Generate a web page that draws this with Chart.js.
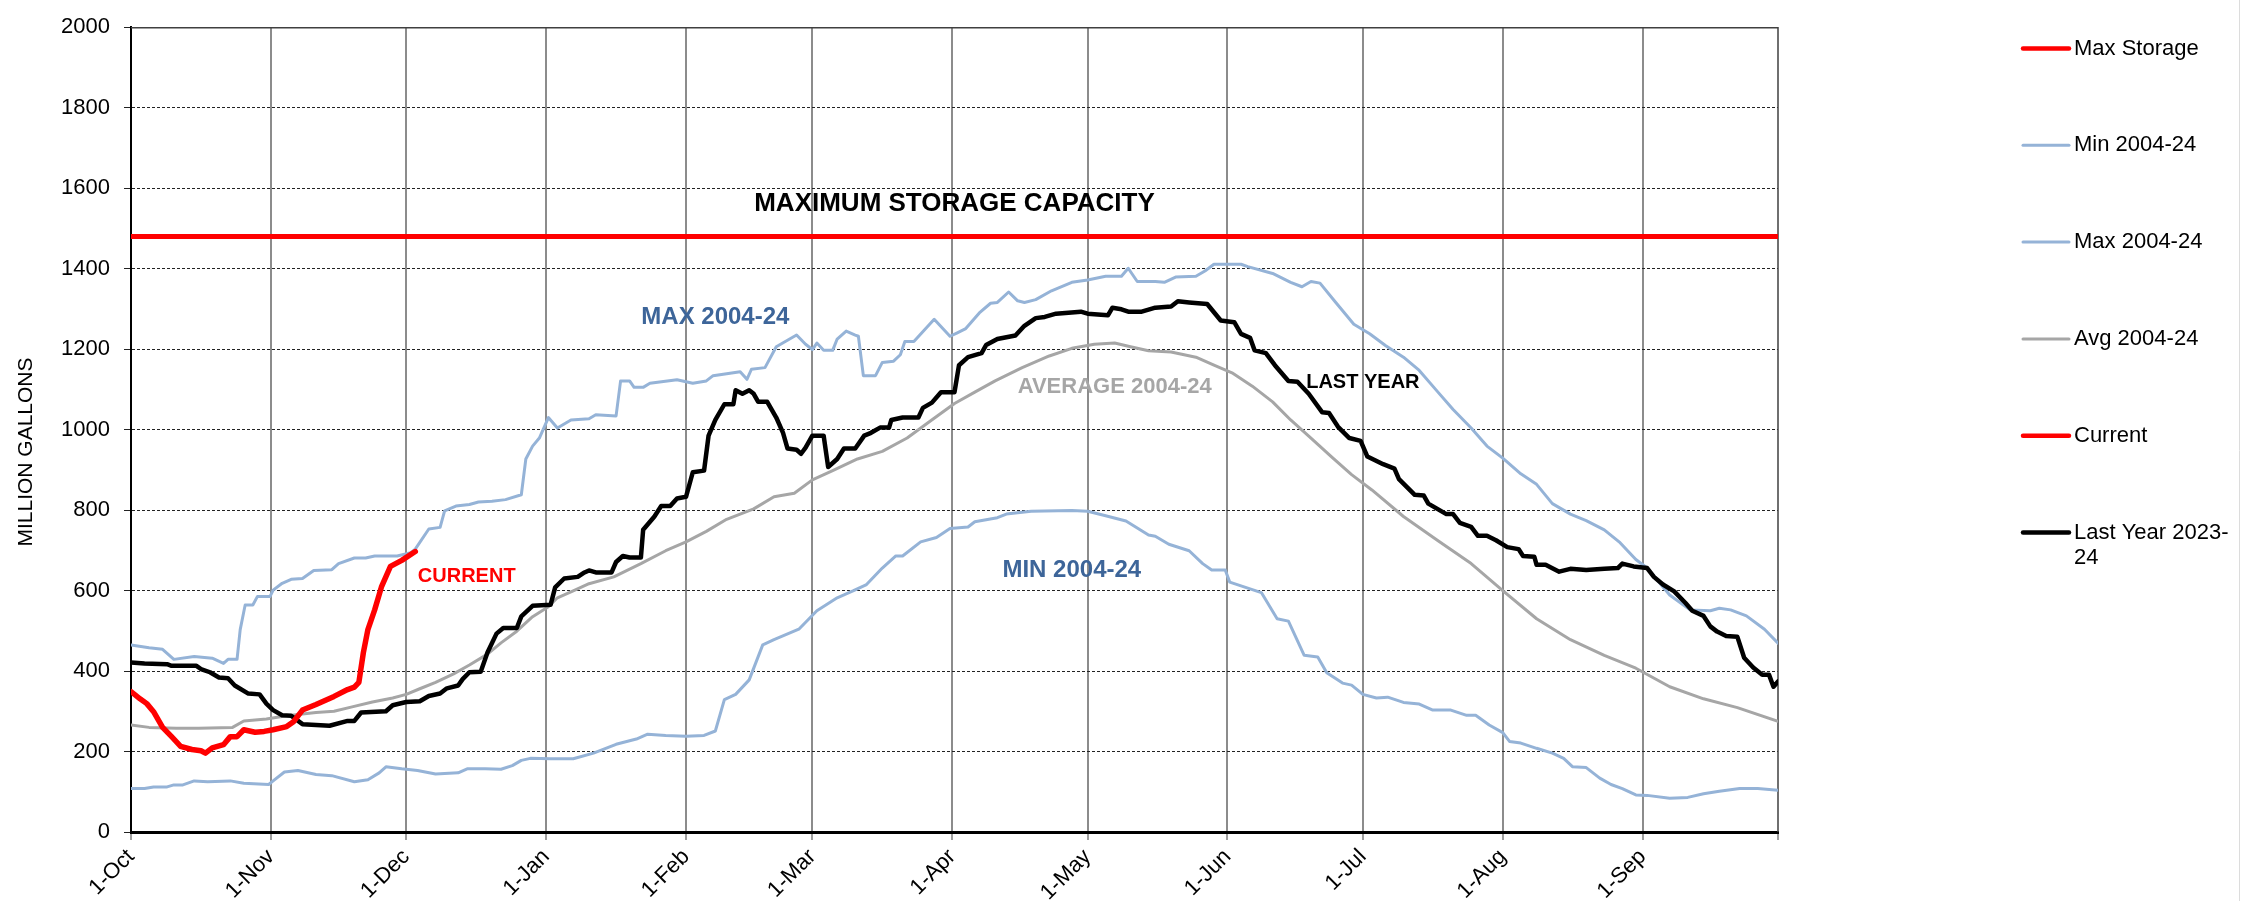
<!DOCTYPE html>
<html>
<head>
<meta charset="utf-8">
<script src="https://cdn.jsdelivr.net/npm/chart.js@4.4.1/dist/chart.umd.min.js"></script>
<style>
html,body{margin:0;padding:0;background:#fff;}
#wrap{width:2258px;height:901px;position:relative;}
canvas{display:block;}
</style>
</head>
<body>
<div id="wrap"><canvas id="c" width="2258" height="901"></canvas></div>
<script>
// ---------- DATA (x = days since 1-Oct, y = million gallons) ----------
const monthTickDays   = [0, 31, 61, 92, 123, 151, 182, 212, 243, 273, 304, 335, 365];
const monthTickLabels = ['1-Oct','1-Nov','1-Dec','1-Jan','1-Feb','1-Mar','1-Apr','1-May','1-Jun','1-Jul','1-Aug','1-Sep',''];

const maxStorageDays   = [0, 365];
const maxStorageValues = [1480, 1480];

const minDays = [0,3,5,8,9.5,11.5,14,17,22,25,30.5,31.5,34,37,41,44.5,49.5,52.5,55,56.5,60,63.5,67.5,72.5,74.5,78.5,82,84.5,86.5,88.5,93,98,102.5,107.5,112,114.5,118.5,123,127,129.5,131.5,134,137,140,142.5,148,152,156.5,160,163,166.5,169.5,171,175,178.5,181.5,185.5,187,192,194,199.5,208.5,212,216,220.5,225.5,227,230,234.5,237.5,239.5,242.5,243.5,247,250.5,254,256.5,260,263,265,268.5,270.5,273,276,278.5,282,285.5,288.5,292.5,296,298,301,304,305.5,308,311.5,315,317.5,319.5,322.5,325.5,328,330.5,333.5,336,341,345,348.5,352,356.5,360.5,365];
const minValues = [108,108,112,112,117,117,127,125,127,121,118,127,149,153,143,140,125,130,147,162,157,153,144,147,157,157,156,165,178,183,182,182,196,218,231,243,240,238,240,251,329,342,378,465,478,504,550,582,599,615,656,686,686,721,732,754,758,771,781,790,797,799,797,786,773,738,735,715,699,667,651,651,621,608,595,530,524,439,435,396,370,365,342,333,335,322,318,303,303,290,290,266,247,225,221,208,196,183,162,160,134,118,108,92,91,84,86,95,101,108,108,104];

const maxDays = [0,4,7,9.5,14,18,20.5,21.5,23.5,24.2,25.3,27,28,30.8,31.5,33.5,35.5,38,40.5,44.5,46,49.5,52,54,59,62,63,66,68.5,69.5,72,75,77,80,83,86.5,87.5,89,90.5,92.5,94.5,97.5,101.5,103,107.5,108.5,110.5,111.5,113.5,115,121,124.5,127.5,129,135,136.5,137.5,140.5,143,147.5,149.5,151,152,153.5,155.5,156.5,158.5,160.5,161.2,162.3,165,166.5,169,170.5,171.5,173.5,178,181.5,183,185,188,190.5,192,194.5,196.5,198,200.5,204,208.5,212,216,219.5,221,223,227,229,231.5,236,238,240,246,247.5,253,257,259.5,261.5,263.5,267,271,274.5,278,282,285.5,289.5,293,297,300.5,304,308,311.5,315,319,322.5,326.5,330,333.5,336,341,345.5,350,352,354.5,358,362,365];
const maxValues = [465,458,454,429,436,432,419,429,429,503,564,564,585,585,601,618,628,630,650,652,667,681,681,686,686,694,703,753,757,798,810,814,820,822,826,838,927,959,979,1030,1004,1024,1027,1037,1034,1121,1121,1105,1105,1115,1124,1115,1121,1134,1144,1125,1150,1154,1206,1235,1212,1199,1215,1197,1197,1225,1245,1235,1232,1134,1134,1167,1170,1186,1219,1219,1274,1232,1240,1251,1290,1314,1316,1342,1320,1316,1323,1345,1366,1372,1381,1381,1401,1368,1368,1366,1379,1381,1394,1411,1411,1405,1388,1366,1355,1368,1364,1316,1262,1238,1209,1180,1147,1095,1050,1004,959,929,890,864,816,790,774,751,719,677,656,589,552,550,556,552,537,504,469];

const avgDays = [0,4,10,15,22.5,25,30,34.5,41,45,49,53.5,58,61,64,67.5,71.5,75,79,82,85.5,89,92.5,94.5,98,101.5,107,113,118.5,123,127.5,132,138,142.5,147,151,155.5,161,166.5,172,177,182.5,187,191.5,197.5,203.5,208.5,213.5,218,221.5,225.5,230.5,236,240,244,248.5,253,257,261.5,266,270.5,275,282,289.5,297,304,311.5,319,326.5,333.5,341,348.5,356,365];
const avgValues = [266,260,258,258,260,276,281,289,297,300,311,323,333,342,356,372,393,415,442,470,499,535,560,582,599,617,634,667,699,721,747,777,803,833,842,875,898,927,946,979,1020,1065,1093,1121,1154,1183,1202,1212,1215,1206,1196,1193,1180,1160,1141,1108,1069,1024,979,933,888,850,784,725,667,600,530,478,439,407,361,331,309,275];

const currentDays   = [0,2,3.5,5,7,9,11,13.5,15.5,16.5,18,20.5,22,23.5,25,27.5,29.5,31.5,34.5,36,38,41,45,48,49.5,50.5,51.5,52.5,54,55.5,57.5,60,63];
const currentValues = [349,331,319,299,260,237,213,205,202,196,209,217,237,237,254,248,250,254,262,274,303,317,337,354,360,372,446,503,552,609,660,675,697];

const lastYearDays = [0,3,8,9,14.5,15.5,17.5,19.5,21.5,23,26,28.5,30,31.5,33.5,35.5,38,44,48,49.5,51,56.5,58,61,64,66,68.5,70,72.5,73.5,75,77.5,79,81,82.5,85.5,86.5,89,93,94,96,99,100.5,101.5,103,106.5,107.5,109,110.5,113,113.5,116,117.5,119.5,121,123,124.5,127,128,129.5,131.5,133.5,134,135.5,137,138,139,141,143,144.5,145.5,147.5,148.5,149.5,151,153.5,154.5,156.5,158,160.5,162.5,164,166,168,168.5,171,174.5,175.5,177.5,179.5,182.5,183.5,185.5,188.5,189.5,192,196,198,200.5,202.5,205,210.5,212,216.5,217.5,219.5,221,224,227,230.5,232,234.5,238.5,241.5,244.5,246,248,249,251.5,253.5,256.5,258.5,261,264,265.5,267.5,270,272.5,274,277.5,280,281,284.5,286.5,287.5,291.5,293,294.5,297,298.5,300.5,302.5,305,307.5,308.5,311,311.5,313.5,316.5,319,322.5,326.5,329.5,330.5,333,336,337.5,339.5,342,344.5,346,348.5,350,351.5,353.5,356,357.5,359.5,361.5,363,364,365];
const lastYearValues = [421,419,417,413,413,405,397,384,382,364,344,342,319,303,290,289,268,264,276,276,297,300,315,323,325,338,344,357,364,380,397,398,446,493,507,507,536,562,565,608,630,634,645,650,645,645,671,686,682,682,751,784,810,810,829,833,894,898,985,1024,1063,1063,1098,1089,1098,1089,1069,1069,1030,992,953,950,940,955,985,985,907,927,953,953,985,992,1005,1005,1024,1030,1030,1054,1067,1093,1093,1160,1180,1190,1210,1225,1234,1258,1277,1280,1288,1293,1288,1284,1303,1299,1293,1293,1303,1306,1319,1316,1312,1271,1267,1238,1228,1197,1190,1160,1121,1119,1089,1043,1041,1007,979,972,933,914,903,877,838,836,816,790,790,768,758,736,736,725,708,703,686,684,664,664,647,654,651,654,656,667,660,656,634,615,598,569,550,537,511,498,487,485,433,409,391,391,361,374];

// ---------- STYLE / LAYOUT ----------
const FONT = "'Liberation Sans', Arial, sans-serif";
const BLUE = '#95b3d7';
const GRAY = '#a6a6a6';
const RED  = '#ff0000';

function pts(days, vals){ return days.map((d,i)=>({x:d, y:vals[i]})); }

const chartLabels = [
  {text:'MAXIMUM STORAGE CAPACITY', day:182.5, value:1562, color:'#000000', font:'bold 26px '+FONT},
  {text:'MAX 2004-24',     day:129.5, value:1278, color:'#3d6599', font:'bold 24px '+FONT},
  {text:'AVERAGE 2004-24', day:218,   value:1106, color:'#a6a6a6', font:'bold 22px '+FONT},
  {text:'MIN 2004-24',     day:208.5, value:649,  color:'#3d6599', font:'bold 24px '+FONT},
  {text:'LAST YEAR',       day:273,   value:1118, color:'#000000', font:'bold 20px '+FONT},
  {text:'CURRENT',         day:74.4,  value:634,  color:'#ff0000', font:'bold 20px '+FONT}
];

const overlay = {
  id:'overlay',
  beforeDatasetsDraw(chart){
    const {ctx, chartArea:a} = chart;
    ctx.save();
    ctx.strokeStyle = '#404040';
    ctx.lineWidth = 1.5;
    ctx.beginPath();
    ctx.moveTo(a.left, a.top + 0.5);
    ctx.lineTo(a.right, a.top + 0.5);
    ctx.lineTo(a.right, a.bottom);
    ctx.stroke();
    ctx.restore();
  },
  afterDatasetsDraw(chart){
    const {ctx} = chart;
    const xs = chart.scales.x, ys = chart.scales.y;
    ctx.save();
    ctx.textAlign = 'center';
    ctx.textBaseline = 'middle';
    chartLabels.forEach(l=>{
      ctx.font = l.font;
      ctx.fillStyle = l.color;
      ctx.fillText(l.text, xs.getPixelForValue(l.day), ys.getPixelForValue(l.value));
    });
    ctx.restore();
  },
  afterDraw(chart){
    const {ctx} = chart;
    ctx.save();
    // y-axis title
    ctx.translate(26.5, 452);
    ctx.rotate(-Math.PI/2);
    ctx.font = '21px ' + FONT;
    ctx.fillStyle = '#000';
    ctx.textAlign = 'center';
    ctx.textBaseline = 'middle';
    ctx.fillText('MILLION GALLONS', 0, 0);
    ctx.restore();

    // legend
    ctx.save();
    const lx1 = 2023, lx2 = 2069, tx = 2074, top = 48.5, step = 96.8, maxW = 163;
    ctx.font = '22px ' + FONT;
    ctx.textAlign = 'left';
    ctx.textBaseline = 'middle';
    chart.data.datasets.forEach((ds, i)=>{
      const y = top + i*step;
      ctx.strokeStyle = ds.borderColor;
      ctx.lineWidth = Math.min(ds.borderWidth, 4.5);
      ctx.lineCap = 'round';
      ctx.beginPath(); ctx.moveTo(lx1, y); ctx.lineTo(lx2, y); ctx.stroke();
      const tokens = ds.label.match(/[^\s-]+[\s-]?/g);
      const lines = []; let cur = '';
      tokens.forEach(t=>{
        if (cur && ctx.measureText((cur+t).trimEnd()).width > maxW) { lines.push(cur.trimEnd()); cur = t; }
        else cur += t;
      });
      lines.push(cur.trimEnd());
      ctx.fillStyle = '#000';
      lines.forEach((ln, k)=> ctx.fillText(ln, tx, y + k*25));
    });
    ctx.restore();

    // faint outer frame line
    ctx.save();
    ctx.strokeStyle = '#dcdcdc';
    ctx.lineWidth = 1;
    ctx.beginPath(); ctx.moveTo(2239.5, 0); ctx.lineTo(2239.5, 901); ctx.stroke();
    ctx.restore();
  }
};

const lineBase = {pointRadius:0, pointHoverRadius:0, tension:0, borderJoinStyle:'round', borderCapStyle:'round', fill:false};

new Chart(document.getElementById('c'), {
  type:'line',
  data:{
    datasets:[
      {...lineBase, label:'Max Storage',       data:pts(maxStorageDays, maxStorageValues), borderColor:RED,  borderWidth:5,   order:5},
      {...lineBase, label:'Min 2004-24',       data:pts(minDays, minValues),               borderColor:BLUE, borderWidth:3,   order:4},
      {...lineBase, label:'Max 2004-24',       data:pts(maxDays, maxValues),               borderColor:BLUE, borderWidth:3,   order:3},
      {...lineBase, label:'Avg 2004-24',       data:pts(avgDays, avgValues),               borderColor:GRAY, borderWidth:3,   order:2},
      {...lineBase, label:'Current',           data:pts(currentDays, currentValues),       borderColor:RED,  borderWidth:5.5, order:0},
      {...lineBase, label:'Last Year 2023-24', data:pts(lastYearDays, lastYearValues),     borderColor:'#000000', borderWidth:4.5, order:1}
    ]
  },
  options:{
    responsive:false,
    devicePixelRatio:1,
    animation:false,
    events:[],
    layout:{padding:{left:10, right:480, top:17, bottom:0}},
    plugins:{legend:{display:false}, tooltip:{enabled:false}, title:{display:false}},
    scales:{
      x:{
        type:'linear', min:0, max:365,
        afterBuildTicks:(s)=>{ s.ticks = monthTickDays.map(v=>({value:v})); },
        afterFit:(s)=>{ s.height = 69; },
        ticks:{
          autoSkip:false, minRotation:45, maxRotation:45, padding:4,
          color:'#000', font:{family:FONT, size:22},
          callback:(v)=>{ const i = monthTickDays.indexOf(v); return i >= 0 ? monthTickLabels[i] : ''; }
        },
        grid:{
          color:(c)=> (c.tick && (c.tick.value === 0 || c.tick.value === 365)) ? 'rgba(0,0,0,0)' : '#8c8c8c',
          lineWidth:2, tickLength:8, tickColor:'#808080', tickWidth:1.5
        },
        border:{color:'#000', width:3}
      },
      y:{
        min:0, max:2000,
        afterFit:(s)=>{ s.width = 121; },
        ticks:{stepSize:200, padding:14, color:'#000', font:{family:FONT, size:22}, callback:(v)=>String(v)},
        grid:{
          color:(c)=> (c.tick && c.tick.value === 0) ? 'rgba(0,0,0,0)' : '#222',
          lineWidth:1, tickLength:7, tickColor:'#222', tickWidth:1
        },
        border:{color:'#000', width:2, dash:[3,2]}
      }
    }
  },
  plugins:[overlay]
});
</script>
</body>
</html>
